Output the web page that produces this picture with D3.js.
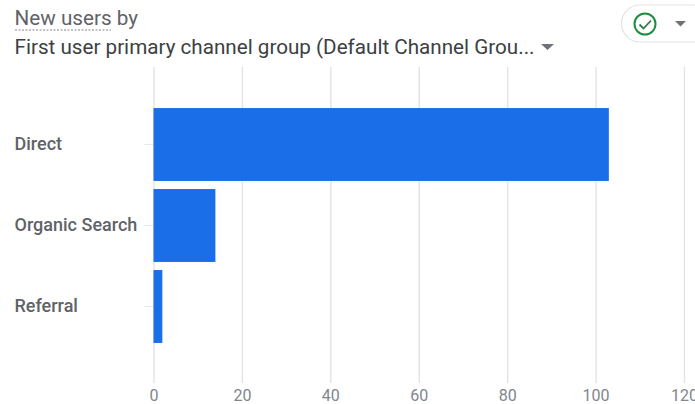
<!DOCTYPE html>
<html>
<head>
<meta charset="utf-8">
<script src="https://cdn.jsdelivr.net/npm/d3@7/dist/d3.min.js"></script>
<style>
  html, body { margin: 0; padding: 0; background: #fff; }
  svg { display: block; }
  svg text { font-family: Roboto, sans-serif; }
</style>
</head>
<body>
<svg id="chart" width="695" height="404"></svg>
<script>
const channels = ["Direct", "Organic Search", "Referral"];
const newUsers = [103, 14, 2];
const tickValues = [0, 20, 40, 60, 80, 100, 120];

const svg = d3.select("#chart");

const x = d3.scaleLinear().domain([0, 120]).range([153.5, 684]);
const y = d3.scaleBand().domain(channels).range([104, 347]).paddingInner(0.1).paddingOuter(0.05);

// Vertical gridlines and value labels
const xAxis = svg.append("g").attr("transform", "translate(0,383)")
  .call(d3.axisBottom(x).tickValues(tickValues).tickSize(316).tickPadding(5).tickFormat(d3.format("d")));
xAxis.select(".domain").remove();
xAxis.selectAll(".tick line").attr("y1", 0).attr("y2", -316).attr("stroke", "#e3e3e3").attr("stroke-width", 1.4);
xAxis.selectAll(".tick text")
  .attr("y", 7).attr("dy", "0.71em")
  .attr("fill", "#80868b").attr("font-size", 16);

// Category labels with short tick marks
const yAxis = svg.append("g").attr("transform", "translate(153.5,0)")
  .call(d3.axisLeft(y).tickSize(9).tickPadding(0));
yAxis.select(".domain").remove();
yAxis.selectAll(".tick line").attr("stroke", "#e8e8e8");
yAxis.selectAll(".tick text")
  .attr("x", -139).attr("text-anchor", "start")
  .attr("fill", "#5f6368").attr("font-size", 18).attr("font-weight", 500)
  .attr("dy", "0.33em");

// Bars
svg.append("g").selectAll("rect").data(channels).join("rect")
  .attr("x", x(0))
  .attr("y", d => y(d))
  .attr("width", (d, i) => x(newUsers[i]) - x(0))
  .attr("height", y.bandwidth())
  .attr("fill", "#1a6ee8");

// Title block
svg.append("text").attr("x", 14.5).attr("y", 24.5).attr("fill", "#5f6368").attr("font-size", 20.7).text("New users by");
svg.append("line").attr("x1", 15).attr("x2", 111).attr("y1", 30).attr("y2", 30)
  .attr("stroke", "#80868b").attr("stroke-width", 1).attr("stroke-dasharray", "2 1.5");
svg.append("text").attr("x", 14.5).attr("y", 54).attr("fill", "#3c4043").attr("font-size", 20.65)
  .text("First user primary channel group (Default Channel Grou...");
svg.append("path").attr("d", d3.line()([[541, 44], [554, 44], [547.5, 50]])).attr("fill", "#6f7377");

// Status chip with check icon and dropdown arrow
svg.append("rect").attr("x", 621.5).attr("y", 5).attr("width", 90).attr("height", 37).attr("rx", 18.5)
  .attr("fill", "#fff").attr("stroke", "#e3e3e3").attr("stroke-width", 1.2);
svg.append("circle").attr("cx", 645).attr("cy", 24).attr("r", 10.5)
  .attr("fill", "none").attr("stroke", "#1e8e3e").attr("stroke-width", 2);
svg.append("path").attr("d", d3.line()([[639.5, 24.5], [643.5, 28.5], [651, 20.5]]))
  .attr("fill", "none").attr("stroke", "#2f7d46").attr("stroke-width", 1.8);
svg.append("path").attr("d", d3.line()([[675, 21], [686, 21], [680.5, 26.5]])).attr("fill", "#6f7377");
</script>
</body>
</html>
